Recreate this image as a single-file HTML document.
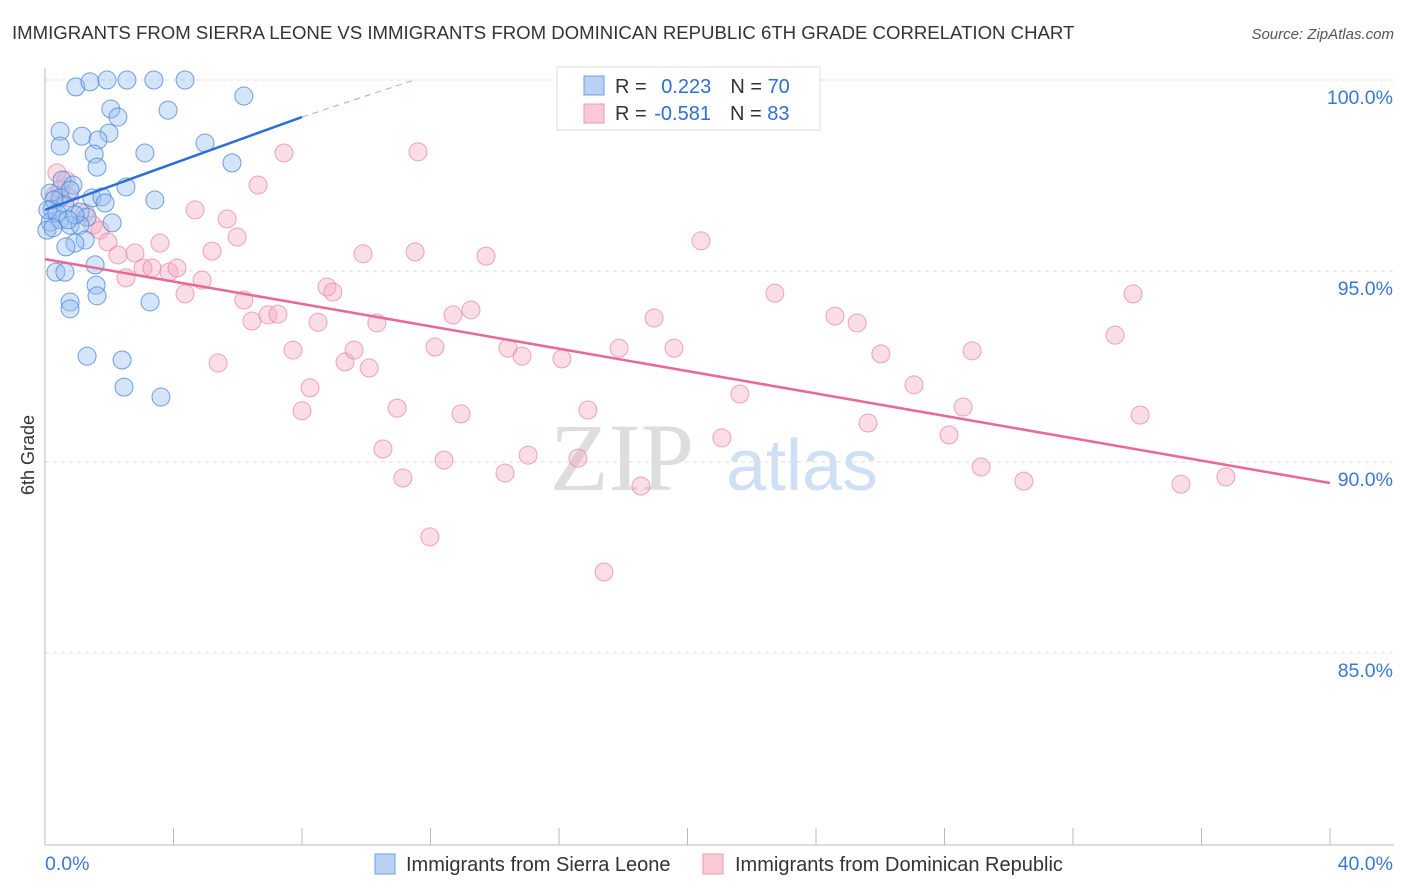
<!DOCTYPE html>
<html><head><meta charset="utf-8"><style>
body{margin:0;background:#fff;font-family:"Liberation Sans",sans-serif}
svg{display:block}
</style></head><body>
<svg id="c" width="1406" height="892">
<text x="12" y="39" font-size="18.6" fill="#333">IMMIGRANTS FROM SIERRA LEONE VS IMMIGRANTS FROM DOMINICAN REPUBLIC 6TH GRADE CORRELATION CHART</text>
<text x="1394" y="39" font-size="15" fill="#555" font-style="italic" text-anchor="end">Source: ZipAtlas.com</text>
<text x="622" y="490" font-size="96" fill="#ddd" font-family="Liberation Serif,serif" text-anchor="middle">ZIP</text>
<text x="802" y="490" font-size="72" fill="#cfe0f4" text-anchor="middle">atlas</text>
<text transform="translate(34,455) rotate(-90)" font-size="18" fill="#333" text-anchor="middle">6th Grade</text>
<g id="grid"></g><g id="pts"></g><g id="trend"></g>
<g>
<rect x="557" y="67" width="263" height="63" fill="#fff" stroke="#ddd"/>
<rect x="584" y="76" width="20" height="19" fill="#b9d2f3" stroke="#6f9fe0"/>
<rect x="584" y="104" width="20" height="19" fill="#f9c9d6" stroke="#ec9ab3"/>
<text x="615" y="93" font-size="20" fill="#333">R = <tspan fill="#2f6fd0" dx="9">0.223</tspan><tspan fill="#333" dx="19">N = </tspan><tspan fill="#2f6fd0">70</tspan></text>
<text x="615" y="120" font-size="20" fill="#333">R = <tspan fill="#2f6fd0" dx="2">-0.581</tspan><tspan fill="#333" dx="19">N = </tspan><tspan fill="#2f6fd0">83</tspan></text>
</g>
<g>
<rect x="375" y="854" width="20" height="20" fill="#b9d2f3" stroke="#6f9fe0"/>
<text x="406" y="871" font-size="20" fill="#333">Immigrants from Sierra Leone</text>
<rect x="703" y="854" width="20" height="20" fill="#f9c9d6" stroke="#ec9ab3"/>
<text x="735" y="871" font-size="20" fill="#333">Immigrants from Dominican Republic</text>
</g>
</svg>
<script>
const blueX=[0.96,1.40,1.93,2.55,3.39,4.36,6.19,3.83,2.05,2.27,0.47,1.15,1.99,1.65,0.47,1.53,3.11,4.98,5.82,1.62,0.53,0.87,2.52,3.42,0.16,0.47,0.78,1.46,1.77,1.87,0.22,0.62,1.09,1.31,2.09,0.16,0.47,0.78,1.09,0.06,1.25,0.93,0.65,1.56,0.34,0.62,0.78,0.78,1.59,1.62,3.27,1.31,2.40,2.46,3.61,0.28,0.09,0.37,0.93,0.72,0.25];
const blueY=[99.82,99.95,100,100,100,100,99.58,99.21,99.24,99.03,98.66,98.53,98.61,98.43,98.27,98.06,98.09,98.35,97.83,97.72,97.38,97.25,97.20,96.86,97.04,96.91,97.12,96.91,96.94,96.78,96.62,96.73,96.54,96.41,96.26,96.28,96.34,96.20,96.20,96.07,95.81,95.73,95.63,95.16,94.97,94.97,94.19,94.01,94.63,94.35,94.19,92.77,92.67,91.96,91.70,96.86,96.60,96.52,96.47,96.34,96.13];
const pinkX=[0.37,0.65,0.31,0.47,0.78,1.25,1.49,1.71,1.96,2.27,2.52,2.80,3.05,3.33,3.58,3.86,4.11,4.36,4.67,4.89,5.20,5.39,5.67,5.98,6.19,6.44,6.63,6.94,7.25,7.44,7.72,8.00,8.25,8.50,8.78,8.96,9.34,9.62,9.90,10.09,10.33,10.52,10.96,11.14,11.52,11.61,11.98,12.14,12.42,12.70,12.95,13.26,13.73,14.32,14.41,14.85,15.04,16.09,16.59,16.90,17.40,17.87,18.55,18.96,19.58,20.42,21.07,21.63,22.72,24.59,25.28,25.62,26.02,27.05,28.14,28.58,28.86,29.14,30.47,33.31,33.87,34.09,35.36,36.76];
const pinkY=[97.57,97.38,96.99,97.12,96.91,96.52,96.20,96.07,95.76,95.42,94.82,95.47,95.08,95.08,95.73,94.97,95.08,94.40,96.60,94.76,95.52,92.59,96.36,95.89,94.24,93.69,97.25,93.85,93.87,98.09,92.93,91.34,91.94,93.66,94.58,94.45,92.62,92.93,95.45,92.46,93.64,90.34,91.41,89.58,95.50,98.12,88.04,93.01,90.05,93.85,91.26,93.98,95.39,89.71,92.98,92.77,90.18,92.70,90.10,91.36,87.12,92.98,89.37,93.77,92.98,95.79,90.63,91.78,94.42,93.82,93.64,91.02,92.83,92.02,90.71,91.44,92.91,89.87,89.50,93.32,94.40,91.23,89.42,89.61];
const blueTrendX=[0,8.0,11.5];
const blueTrendY=[96.6,99.03,100.0];
const pinkTrendX=[0,40];
const pinkTrendY=[95.31,89.45];
const yTicks=[100,95,90,85];
const yTickLabels=["100.0%","95.0%","90.0%","85.0%"];
const xTicks=[0,4,8,12,16,20,24,28,32,36,40];
const NS="http://www.w3.org/2000/svg";
const sx=v=>45+v*(1285/40);
const sy=v=>80+(100-v)*38.2;
function mk(tag,attrs,parent){const e=document.createElementNS(NS,tag);for(const k in attrs)e.setAttribute(k,attrs[k]);parent.appendChild(e);return e;}
const grid=document.getElementById('grid');
yTicks.forEach((t,i)=>{
 const l=mk('line',{x1:45,x2:1394,y1:sy(t),y2:sy(t),stroke:'#ddd','stroke-dasharray':'4,4'},grid);
 
 
 const tx=mk('text',{x:1393,y:sy(t)+24,'font-size':19.5,fill:'#3a78d4','text-anchor':'end'},grid);
 tx.textContent=yTickLabels[i];
 
 
});
const ax=mk('line',{x1:45,x2:1394,y1:845,y2:845,stroke:'#bbb'},grid);


const ay=mk('line',{x1:45,x2:45,y1:68,y2:845,stroke:'#bbb'},grid);


xTicks.forEach(t=>{
 const l=mk('line',{x1:sx(t),x2:sx(t),y1:828,y2:845,stroke:'#bbb'},grid);
 
 
});
const xl0=mk('text',{x:45,y:870,'font-size':19.5,fill:'#3a78d4'},grid);xl0.textContent=xTicks[0].toFixed(1)+'%';


const xl1=mk('text',{x:1393,y:870,'font-size':19.5,fill:'#3a78d4','text-anchor':'end'},grid);xl1.textContent=xTicks[xTicks.length-1].toFixed(1)+'%';


const pts=document.getElementById('pts');
pinkX.forEach((x,i)=>{
 const c=mk('circle',{cx:sx(x),cy:sy(pinkY[i]),r:9,fill:'rgba(244,170,192,0.4)',stroke:'rgba(232,130,162,0.7)','stroke-width':1},pts);
 
 
});
blueX.forEach((x,i)=>{
 const c=mk('circle',{cx:sx(x),cy:sy(blueY[i]),r:9,fill:'rgba(150,190,240,0.4)',stroke:'rgba(70,130,215,0.75)','stroke-width':1},pts);
 
 
});
const tr=document.getElementById('trend');
const b1=mk('line',{x1:sx(blueTrendX[0]),y1:sy(blueTrendY[0]),x2:sx(blueTrendX[1]),y2:sy(blueTrendY[1]),stroke:'#2a6fd6','stroke-width':2.5},tr);


const b2=mk('line',{x1:sx(blueTrendX[1]),y1:sy(blueTrendY[1]),x2:sx(blueTrendX[2]),y2:sy(blueTrendY[2]),stroke:'#8fb3e6','stroke-width':1,'stroke-dasharray':'6,5'},tr);


const p1=mk('line',{x1:sx(pinkTrendX[0]),y1:sy(pinkTrendY[0]),x2:sx(pinkTrendX[1]),y2:sy(pinkTrendY[1]),stroke:'#e8689a','stroke-width':2.5},tr);


</script>
</body></html>
